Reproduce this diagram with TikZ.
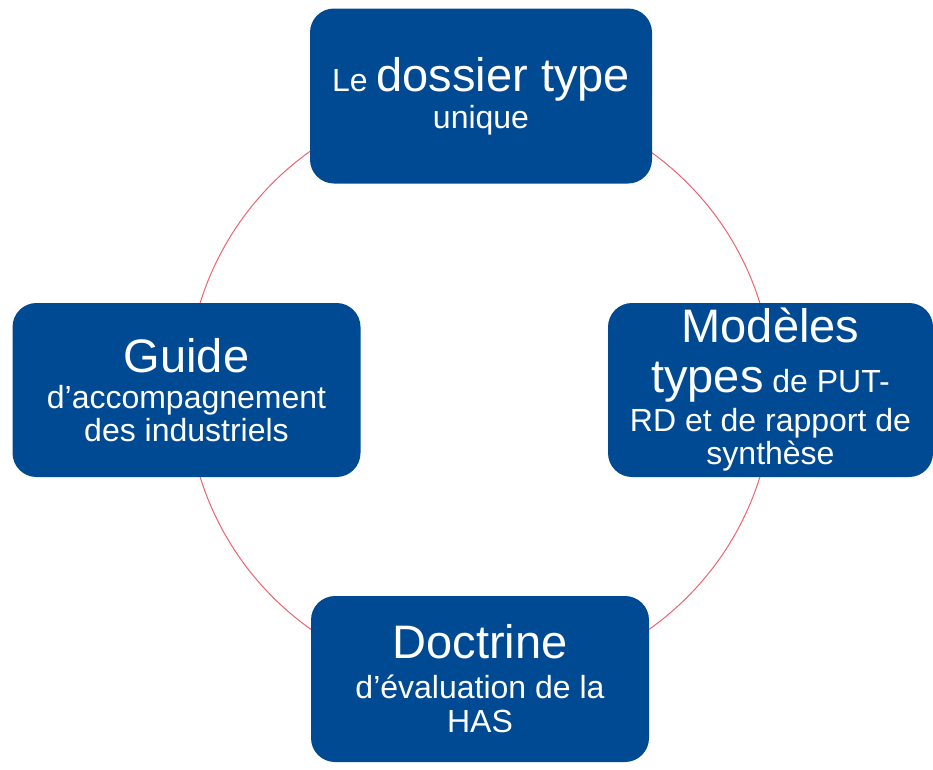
\documentclass[tikz,border=0pt]{standalone}
\usepackage{fontspec}
\setmainfont{Liberation Sans}
\usepackage{tikz}
\usetikzlibrary{positioning}
\definecolor{hasblue}{RGB}{0,74,148}
\definecolor{ringred}{RGB}{240,100,112}
\newcommand{\bigword}{\fontsize{47}{49}\selectfont}

\begin{document}
\begin{tikzpicture}[
  x=1pt, y=-1pt,
  block/.style={fill=hasblue, rounded corners=24pt, text=white, align=center,
    inner sep=0pt, font=\fontsize{32}{33}\selectfont},
  ring/.style={draw=ringred, line width=1pt}
]
  \useasboundingbox[fill=white] (0,0) rectangle (933,769);
  \coordinate (hub) at (480,390);
  \draw[ring] (hub) circle[radius=293];

  \node[block, minimum width=342pt, minimum height=175pt] (dossier) at (481,96)
    {Le {\bigword dossier type}\\[4pt]unique};
  \node[block, minimum width=348pt, minimum height=174pt] (guide) at (186.5,390)
    {{\bigword Guide}\\[3pt]d’accompagnement\\des industriels};
  \node[block, minimum width=325pt, minimum height=174pt] (modeles) at (770.5,390)
    {{\bigword Modèles}\\[17pt]{\bigword types} de PUT-\\[6pt]RD et de rapport de\\synthèse};
  \node[block, minimum width=338pt, minimum height=166pt] (doctrine) at (480,679)
    {{\bigword Doctrine}\\[7pt]d’évaluation de la\\[1pt]HAS};
\end{tikzpicture}
\end{document}
